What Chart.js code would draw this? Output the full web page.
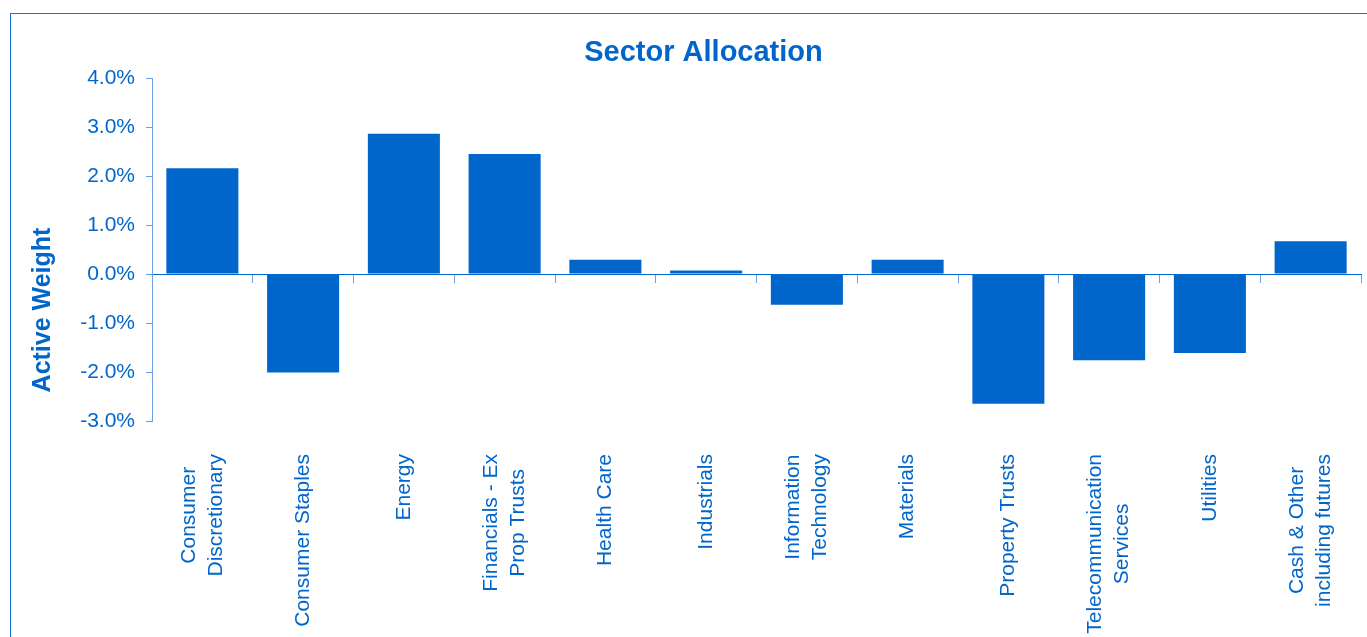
<!DOCTYPE html>
<html>
<head>
<meta charset="utf-8">
<title>Sector Allocation</title>
<script src="https://cdn.jsdelivr.net/npm/chart.js@4.4.1/dist/chart.umd.min.js"></script>
<style>
    body { margin: 0; background: #fff; overflow: hidden; }
    #frame { position: absolute; left: 10px; top: 13px; width: 1400px; height: 700px; border: 1px solid #1c6fd0; }
    #wrap { position: absolute; left: 0; top: 0; width: 1367px; height: 637px; }
</style>
</head>
<body>
<div id="frame"></div>
<div id="wrap"><canvas id="sectorChart" width="1367" height="637"></canvas></div>
<script>
// ========================================
// DATA
// ========================================
const categories = [
    ['Consumer', 'Discretionary'],
    'Consumer Staples',
    'Energy',
    ['Financials - Ex', 'Prop Trusts'],
    'Health Care',
    'Industrials',
    ['Information', 'Technology'],
    'Materials',
    'Property Trusts',
    ['Telecommunication', 'Services'],
    'Utilities',
    ['Cash & Other', 'including futures']
];
const activeWeights = [2.16, -2.01, 2.86, 2.45, 0.29, 0.07, -0.63, 0.29, -2.65, -1.76, -1.61, 0.67];
const yMin = -3;
const yMax = 4;
const yStep = 1;

const blue = '#0066cc';
const lightBlue = '#6a9fe0';
const fontFamily = '"Liberation Sans", Arial, sans-serif';

// Y axis title, drawn a bit below the axis middle like the original
const yTitlePlugin = {
    id: 'yTitle',
    afterDraw(chart) {
        const ctx = chart.ctx;
        ctx.save();
        ctx.translate(43, 310);
        ctx.rotate(-Math.PI / 2);
        ctx.font = 'bold 25px ' + fontFamily;
        ctx.fillStyle = blue;
        ctx.textAlign = 'center';
        ctx.textBaseline = 'middle';
        ctx.fillText('Active Weight', 0, 0);
        ctx.restore();
    }
};

// Category labels: rotated, lines centred on each other and on the tick
const xLabelPlugin = {
    id: 'xLabels',
    afterDraw(chart) {
        const ctx = chart.ctx;
        const xScale = chart.scales.x;
        const lineHeight = 27;
        const top = chart.chartArea.bottom + 33;

        ctx.save();
        ctx.font = '21px ' + fontFamily;
        ctx.fillStyle = blue;
        ctx.textAlign = 'center';
        ctx.textBaseline = 'middle';

        categories.forEach((label, i) => {
            const lines = Array.isArray(label) ? label : [label];
            const maxW = Math.max(...lines.map(l => ctx.measureText(l).width));
            const x = xScale.getPixelForTick(i);
            lines.forEach((line, j) => {
                const lx = x + (j - (lines.length - 1) / 2) * lineHeight;
                ctx.save();
                ctx.translate(lx, top + maxW / 2);
                ctx.rotate(-Math.PI / 2);
                ctx.fillText(line, 0, 0);
                ctx.restore();
            });
        });
        ctx.restore();
    }
};

const ctx = document.getElementById('sectorChart').getContext('2d');
new Chart(ctx, {
    type: 'bar',
    data: {
        labels: categories,
        datasets: [{
            label: 'Active Weight',
            data: activeWeights,
            backgroundColor: blue,
            borderWidth: 0,
            barPercentage: 0.715,
            categoryPercentage: 1.0
        }]
    },
    options: {
        responsive: false,
        animation: false,
        devicePixelRatio: 1,
        layout: { padding: { left: 46, right: 6, top: 0, bottom: 0 } },
        plugins: {
            legend: { display: false },
            tooltip: { enabled: false },
            title: {
                display: true,
                text: 'Sector Allocation',
                color: blue,
                font: { family: fontFamily, size: 29, weight: 'bold' },
                padding: { top: 36, bottom: 7.2 }
            }
        },
        scales: {
            x: {
                position: 'bottom',
                border: { display: false },
                grid: { display: false, drawTicks: false },
                ticks: { display: false },
                afterFit: function (scale) {
                    scale.height = 216;
                    scale.paddingLeft = 0;
                    scale.paddingRight = 0;
                }
            },
            x2: {
                type: 'category',
                position: { y: 0 },
                offset: true,
                border: { display: true, color: blue, width: 1 },
                grid: { offset: true, drawOnChartArea: false, drawTicks: true, tickLength: 8, color: lightBlue },
                ticks: { display: false }
            },
            y: {
                min: yMin,
                max: yMax,
                border: { display: true, color: lightBlue, width: 1 },
                grid: { drawOnChartArea: false, drawTicks: true, tickLength: 6, color: lightBlue },
                ticks: {
                    stepSize: yStep,
                    color: blue,
                    padding: 11,
                    font: { family: fontFamily, size: 21 },
                    callback: function (v) { return v.toFixed(1) + '%'; }
                },
                afterFit: function (scale) { scale.width = 106; }
            }
        }
    },
    plugins: [yTitlePlugin, xLabelPlugin]
});
</script>
</body>
</html>
